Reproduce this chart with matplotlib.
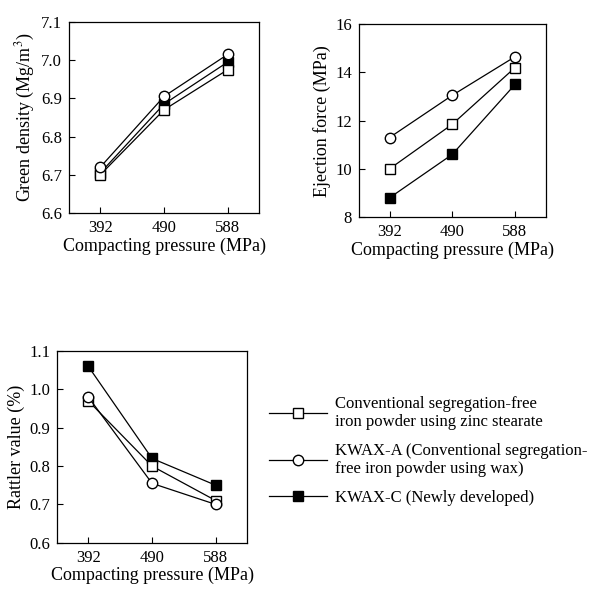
import matplotlib
matplotlib.use("Agg")
import matplotlib.pyplot as plt

plt.rcParams["font.family"] = ["Liberation Serif", "DejaVu Serif"]
plt.rcParams["mathtext.fontset"] = "stix"

pressure = [392, 490, 588]

labels = [
    "Conventional segregation-free\niron powder using zinc stearate",
    "KWAX-A (Conventional segregation-\nfree iron powder using wax)",
    "KWAX-C (Newly developed)",
]

density_zinc = [6.70, 6.87, 6.975]
density_kwax_a = [6.72, 6.905, 7.015]
density_kwax_c = [6.705, 6.885, 6.995]

ejection_zinc = [10.0, 11.85, 14.2]
ejection_kwax_a = [11.3, 13.05, 14.65]
ejection_kwax_c = [8.8, 10.6, 13.5]

rattler_zinc = [0.97, 0.80, 0.71]
rattler_kwax_a = [0.98, 0.755, 0.70]
rattler_kwax_c = [1.06, 0.82, 0.75]

# marker, face colour, zorder (filled squares sit underneath the open ones)
styles = [("s", "white", 3), ("o", "white", 4), ("s", "black", 2)]

fig = plt.figure(figsize=(6.01, 5.90), dpi=100)
ax1 = fig.add_axes([0.115, 0.639, 0.316, 0.324])
ax2 = fig.add_axes([0.597, 0.632, 0.311, 0.327])
ax3 = fig.add_axes([0.095, 0.080, 0.316, 0.325])

panels = [
    (ax1, [density_zinc, density_kwax_a, density_kwax_c], (6.6, 7.1),
     [6.6, 6.7, 6.8, 6.9, 7.0, 7.1], "%.1f", "Green density (Mg/m$^3$)"),
    (ax2, [ejection_zinc, ejection_kwax_a, ejection_kwax_c], (8, 16),
     [8, 10, 12, 14, 16], "%d", "Ejection force (MPa)"),
    (ax3, [rattler_zinc, rattler_kwax_a, rattler_kwax_c], (0.6, 1.1),
     [0.6, 0.7, 0.8, 0.9, 1.0, 1.1], "%.1f", "Rattler value (%)"),
]

handles = []
for ax, series, ylim, yticks, fmt, ylabel in panels:
    hs = []
    for vals, (mk, fc, z) in zip(series, styles):
        h, = ax.plot(pressure, vals, color="black", lw=0.9, marker=mk,
                     mfc=fc, mec="black", mew=1.0, ms=7.5, zorder=z)
        hs.append(h)
    handles = hs
    ax.set_xlim(344, 636)
    ax.set_ylim(*ylim)
    ax.set_xticks(pressure)
    ax.set_yticks(yticks)
    ax.set_yticklabels([fmt % v for v in yticks])
    ax.tick_params(direction="in", length=4, labelsize=12, width=0.8, pad=5)
    ax.set_xlabel("Compacting pressure (MPa)", fontsize=13, labelpad=1)
    ax.set_ylabel(ylabel, fontsize=13, labelpad=3)
    for s in ax.spines.values():
        s.set_linewidth(0.9)

fig.legend(handles, labels, loc="upper left", bbox_to_anchor=(254 / 601, 1 - 381 / 590),
           frameon=False, fontsize=12, handlelength=3.5, handletextpad=0.45,
           labelspacing=0.75)

fig.savefig("out.png", dpi=100)
